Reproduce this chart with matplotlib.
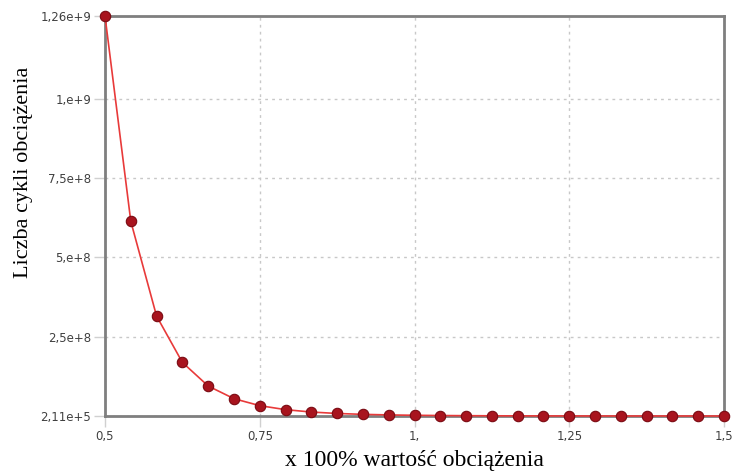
import matplotlib
matplotlib.use("Agg")
import matplotlib.pyplot as plt
from matplotlib.ticker import FixedLocator, FixedFormatter

# load fraction (x 100%) and number of load cycles
load = [0.5, 0.5417, 0.5833, 0.625, 0.6667, 0.7083, 0.75, 0.7917, 0.8333,
        0.875, 0.9167, 0.9583, 1.0, 1.0417, 1.0833, 1.125, 1.1667, 1.2083,
        1.25, 1.2917, 1.3333, 1.375, 1.4167, 1.4583, 1.5]
cycles = [1.26e9, 6.13e8, 3.15e8, 1.69e8, 9.46e7, 5.48e7, 3.28e7, 2.02e7, 1.27e7,
          8.19e6, 5.38e6, 3.61e6, 2.46e6, 1.70e6, 1.20e6, 8.5e5, 6.1e5, 4.6e5,
          3.7e5, 3.1e5, 2.7e5, 2.45e5, 2.3e5, 2.2e5, 2.11e5]

x_ticks = [0.5, 0.75, 1.0, 1.25, 1.5]
x_tick_labels = ["0,5", "0,75", "1,", "1,25", "1,5"]
y_ticks = [2.11e5, 2.5e8, 5e8, 7.5e8, 1e9, 1.26e9]
y_tick_labels = ["2,11e+5", "2,5e+8", "5,e+8", "7,5e+8", "1,e+9", "1,26e+9"]

fig = plt.figure(figsize=(7.36, 4.75), dpi=100)
ax = fig.add_axes([105 / 736, 59 / 475, 619 / 736, 400 / 475])

ax.plot(load, cycles, color="#e83a3a", lw=1.2, zorder=3,
        marker="o", ms=7.5, mfc="#a8141e", mec="#7a0a12", mew=0.8, clip_on=False)

ax.set_xlim(0.5, 1.5)
ax.set_ylim(2.11e5, 1.26e9)
ax.xaxis.set_major_locator(FixedLocator(x_ticks))
ax.xaxis.set_major_formatter(FixedFormatter(x_tick_labels))
ax.yaxis.set_major_locator(FixedLocator(y_ticks))
ax.yaxis.set_major_formatter(FixedFormatter(y_tick_labels))

ax.grid(True, color="#c8c8c8", ls=(0, (2, 3)), lw=1.0)
for sp in ax.spines.values():
    sp.set_color("#7f7f7f")
    sp.set_linewidth(2.0)
ax.tick_params(axis="both", length=8, width=1.0, color="#d0d0d0",
               labelsize=8.5, labelcolor="#404040", pad=2)

ax.set_xlabel("x 100% wartość obciążenia", family="Liberation Serif",
              fontsize=17, labelpad=5)
ax.set_ylabel("Liczba cykli obciążenia", family="Liberation Serif",
              fontsize=16)
ax.yaxis.set_label_coords(-0.116, 0.61)

fig.savefig("out.png", dpi=100)
